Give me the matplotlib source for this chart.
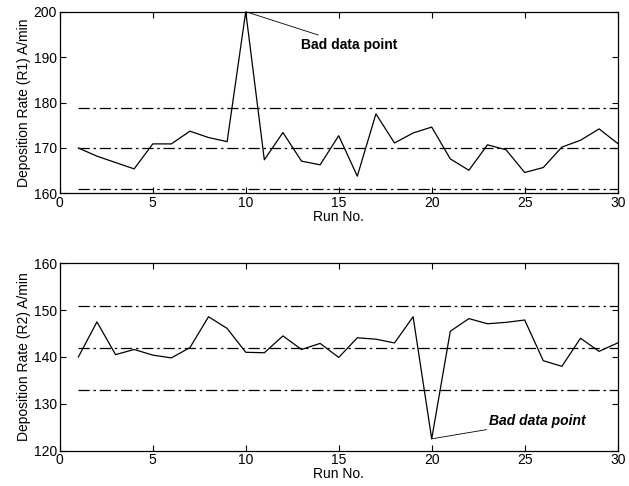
import matplotlib
matplotlib.use("Agg")
import matplotlib.pyplot as plt

runs = list(range(1, 31))
r1 = [170.0, 168.2, 166.8, 165.4, 170.9, 170.9, 173.7, 172.3, 171.4, 200.0,
      167.4, 173.4, 167.1, 166.3, 172.7, 163.8, 177.5, 171.1, 173.3, 174.6,
      167.6, 165.1, 170.7, 169.6, 164.6, 165.7, 170.2, 171.7, 174.2, 171.0]
r2 = [140.0, 147.5, 140.5, 141.6, 140.4, 139.8, 142.0, 148.6, 146.1, 141.0,
      140.9, 144.5, 141.6, 142.9, 139.9, 144.1, 143.8, 143.0, 148.6, 122.5,
      145.5, 148.2, 147.1, 147.4, 147.9, 139.2, 138.0, 144.0, 141.2, 143.0]
r1_limits = [161.0, 170.0, 178.8]
r2_limits = [132.9, 142.0, 150.9]
r1_yticks = [160, 170, 180, 190, 200]
r2_yticks = [120, 130, 140, 150, 160]
xticks = [0, 5, 10, 15, 20, 25, 30]

plt.rcParams['font.family'] = ['Liberation Sans', 'DejaVu Sans']
fig = plt.figure(figsize=(6.29, 4.86), dpi=100)
ax1 = fig.add_axes([0.095, 0.602, 0.887, 0.374])
ax2 = fig.add_axes([0.095, 0.073, 0.887, 0.385])

ls = (0, (9, 3, 2, 3))
fs = 10

def style(ax, yticks, ylabel):
    ax.set_xlim(0, 30)
    ax.set_ylim(yticks[0], yticks[-1])
    ax.set_xticks(xticks)
    ax.set_yticks(yticks)
    ax.tick_params(direction='in', top=True, right=True, labelsize=fs, length=4, pad=2)
    ax.set_xlabel('Run No.', fontsize=fs, labelpad=0)
    ax.set_ylabel(ylabel, fontsize=fs, labelpad=2)
    for s in ax.spines.values():
        s.set_linewidth(0.9)

ax1.plot(runs, r1, color='black', lw=0.9)
for v in r1_limits:
    ax1.plot([runs[0], runs[-1]], [v, v], color='black', lw=0.9, linestyle=ls)
style(ax1, r1_yticks, 'Deposition Rate (R1) A/min')
ax1.annotate('Bad data point', xy=(10, 200), xytext=(12.95, 192.7),
             fontsize=fs, fontweight='bold', va='center', ha='left',
             arrowprops=dict(arrowstyle='-', color='black', lw=0.6, shrinkA=0, shrinkB=0))

ax2.plot(runs, r2, color='black', lw=0.9)
for v in r2_limits:
    ax2.plot([runs[0], runs[-1]], [v, v], color='black', lw=0.9, linestyle=ls)
style(ax2, r2_yticks, 'Deposition Rate (R2) A/min')
ax2.annotate('Bad data point', xy=(20, 122.5), xytext=(23.1, 126.3),
             fontsize=fs, fontweight='bold', fontstyle='italic', va='center', ha='left',
             arrowprops=dict(arrowstyle='-', color='black', lw=0.6, shrinkA=0, shrinkB=0))

fig.savefig('out.png', dpi=100)
